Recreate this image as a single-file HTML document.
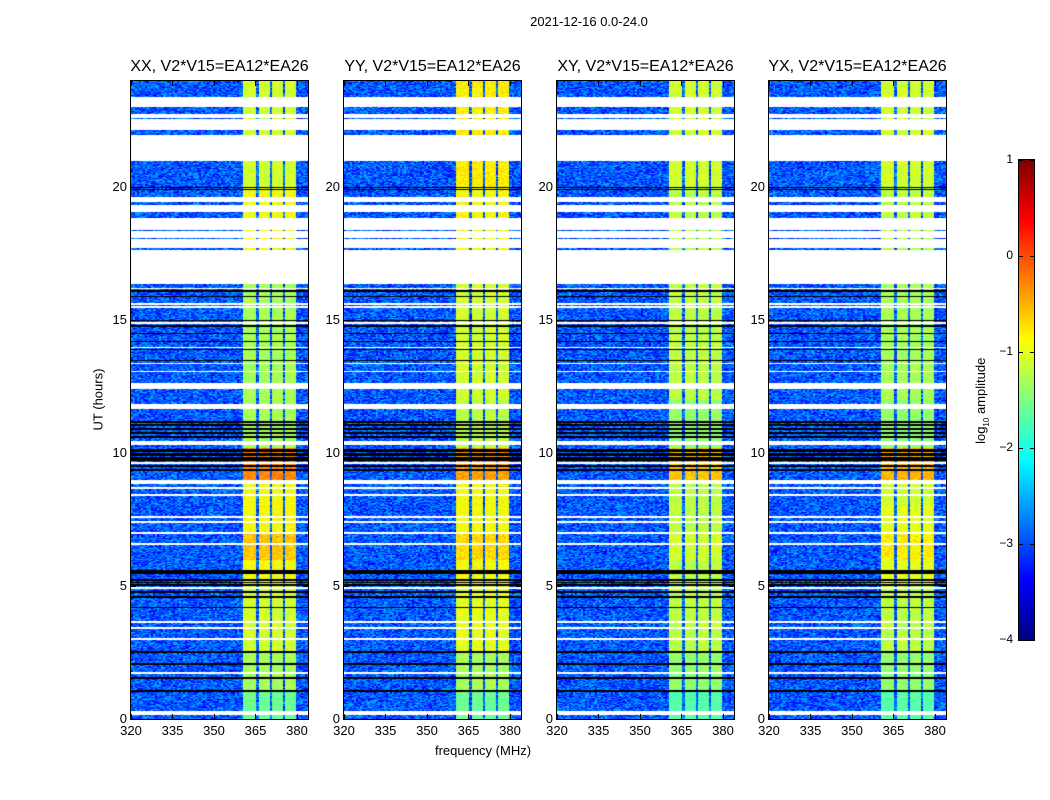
<!DOCTYPE html>
<html><head><meta charset="utf-8">
<style>
body{margin:0;background:#fff;width:1050px;height:800px;overflow:hidden;position:relative;font-family:"Liberation Sans",sans-serif;}
.t{position:absolute;white-space:nowrap;color:#000;}
canvas{position:absolute;}
#root div{position:absolute;box-sizing:content-box;}
</style></head><body>
<div class="t" style="left:489px;top:14px;width:200px;text-align:center;font-size:13px;">2021-12-16 0.0-24.0</div>
<div class="t" style="left:383px;top:743px;width:200px;text-align:center;font-size:13px;">frequency (MHz)</div>
<div class="t" style="left:48px;top:392px;width:100px;text-align:center;font-size:13px;transform:rotate(-90deg);">UT (hours)</div>
<div class="t" style="left:922px;top:392px;width:120px;text-align:center;font-size:13px;transform:rotate(-90deg);">log<sub style="font-size:8px">10</sub> amplitude</div>
<div id="root"></div>
<script>
const panelTitles=["XX, V2*V15=EA12*EA26","YY, V2*V15=EA12*EA26","XY, V2*V15=EA12*EA26","YX, V2*V15=EA12*EA26"];
const xTicks=[320,335,350,365,380];
const yTicks=[0,5,10,15,20];
const cbTicks=[1,0,-1,-2,-3,-4];
const bands=[[360.4,365],[366.2,370.2],[371,374.9],[375.6,379.6]];
const whiteGaps=[[23.03,23.4],[22.61,22.76],[22.16,22.57],[20.99,21.97],[19.45,19.64],[19.07,19.34],[18.4,18.84],[18.1,18.36],[17.72,18.06],[16.37,17.64],[12.42,12.64],[11.66,11.85],[10.31,10.46],[8.84,8.99]];
const whiteLines=[16.18,15.61,15.5,14.9,13.96,13.36,13.06,9.63,8.69,8.43,7.6,7.41,7.0,6.58,4.93,3.65,3.42,3.01,1.73,0.26,0.19];
const blackLines=[20.0,19.93,16.1,15.9,15.0,14.78,14.5,14.2,13.9,13.5,11.17,11.06,10.91,10.76,10.61,10.12,10.05,9.97,9.9,9.82,9.74,9.52,9.37,5.57,5.49,5.23,5.12,5.04,4.78,4.59,4.18,2.52,2.07,1.54,1.05];
const blockEdges=[0,1,2.5,5,6,7,8,9,10.2,12,16.4,20,24];
const levelsXX=[-1.6,-1.3,-1.1,-0.9,-0.6,-0.9,-0.9,-0.3,-1.3,-1.3,-0.9,-1.1];
const levelsYY=[-1.6,-1.3,-1.0,-0.9,-0.7,-0.9,-0.9,-0.4,-1.2,-1.1,-0.9,-0.8];
const levelsXY=[-1.7,-1.4,-1.2,-1.2,-1.1,-1.2,-1.2,-0.6,-1.4,-1.2,-1.2,-1.1];
const levelsYX=[-1.7,-1.4,-1.2,-1.0,-0.8,-1.0,-1.1,-0.5,-1.4,-1.3,-1.2,-1.1];
const panelLevels=[levelsXX,levelsYY,levelsXY,levelsYX];
const bgLevel=-2.95;

const PW=177,PH=638,PT=81,lefts=[131,344,557,769];
const F0=320,F1=383.97,H0=0,H1=24;
const xs=f=>(f-F0)/(F1-F0)*PW;
const ys=h=>PH-(h-H0)/(H1-H0)*PH;
const fInv=px=>F0+px/PW*(F1-F0);
const hInv=py=>H1-py/PH*(H1-H0);
function jet(v){const t=Math.max(0,Math.min(1,(v+4)/5));const c=x=>Math.max(0,Math.min(1,x));
return [c(1.5-Math.abs(4*t-3))*255,c(1.5-Math.abs(4*t-2))*255,c(1.5-Math.abs(4*t-1))*255];}
function hash(a,b,c){let h=(a*374761393+b*668265263+c*2147483647)|0;h=(h^(h>>>13))*1274126177|0;return ((h^(h>>>16))>>>0)/4294967295;}
const root=document.getElementById('root');
function mk(tag,css,txt){const e=document.createElement(tag);e.style.cssText='position:absolute;'+css;if(txt!==undefined)e.textContent=txt;root.appendChild(e);return e;}

panelLevels.forEach((lev,p)=>{
  const L=lefts[p];
  const cv=mk('canvas',`left:${L}px;top:${PT}px;`);
  
  
  cv.width=PW;cv.height=PH;
  const ctx=cv.getContext('2d');const img=ctx.createImageData(PW,PH);
  for(let py=0;py<PH;py++){
    const h=hInv(py+0.5);
    let mode=0;
    for(const g of whiteGaps) if(h>=g[0]&&h<=g[1]) mode=1;
    for(const w of whiteLines) if(Math.abs(ys(w)-py-0.5)<0.6) mode=1;
    if(!mode) for(const b of blackLines) if(Math.abs(ys(b)-py-0.5)<0.6) mode=2;
    let lv=lev[lev.length-1];
    for(let k=0;k<blockEdges.length-1;k++) if(h>=blockEdges[k]&&h<blockEdges[k+1]) lv=lev[k];
    for(let px=0;px<PW;px++){
      const i=(py*PW+px)*4;let col;
      if(mode===1) col=[255,255,255];
      else if(mode===2) col=[0,0,0];
      else{
        const f=fInv(px+0.5);let v=bgLevel;
        let inBand=false;for(const b of bands) if(f>=b[0]&&f<=b[1]) inBand=true;
        if(inBand) v=lv;
        else if(f>360.4&&f<379.6) v=-2.9;
        const n=hash(px>>1,py,p+1);
        v+=(n-0.5)*(inBand?0.35:1.0);
        col=jet(v);
      }
      img.data[i]=col[0];img.data[i+1]=col[1];img.data[i+2]=col[2];img.data[i+3]=255;
    }
  }
  ctx.putImageData(img,0,0);
  const fr=mk('div',`left:${L-1}px;top:${PT-1}px;width:${PW}px;height:${PH}px;border:1px solid #000;`);
  
  
  const tt=mk('div',`left:${L-40}px;top:58px;width:${PW+80}px;text-align:center;font-size:16px;`,panelTitles[p]);
  tt.className='t';
  
  
  xTicks.forEach(f=>{const x=L+xs(f);
    const a=mk('div',`left:${x-0.5}px;top:${PT}px;width:1px;height:5px;background:#000;`);
    
    
    const b=mk('div',`left:${x-0.5}px;top:${PT+PH-5}px;width:1px;height:5px;background:#000;`);
    
    
    const l=mk('div',`left:${x-20}px;top:${PT+PH+4}px;width:40px;text-align:center;font-size:13px;`,String(f));
    l.className='t';
    
    
  });
  yTicks.forEach(h=>{const y=PT+ys(h);
    const a=mk('div',`left:${L}px;top:${y-0.5}px;width:5px;height:1px;background:#000;`);
    
    
    const b=mk('div',`left:${L+PW-5}px;top:${y-0.5}px;width:5px;height:1px;background:#000;`);
    
    
    const l=mk('div',`left:${L-44}px;top:${y-8}px;width:40px;text-align:right;font-size:13px;`,String(h));
    l.className='t';
    
    
  });
});

// colorbar
const CBX=1019,CBY=160,CBW=15,CBH=480;
const cb=mk('canvas',`left:${CBX}px;top:${CBY}px;`);


cb.width=CBW;cb.height=CBH;
const cctx=cb.getContext('2d');
const cbs=v=>(1-v)/5*CBH;
for(let y=0;y<CBH;y++){const c=jet(1-(y+0.5)/CBH*5);cctx.fillStyle=`rgb(${c[0]|0},${c[1]|0},${c[2]|0})`;cctx.fillRect(0,y,CBW,1);}
const cbf=mk('div',`left:${CBX-1}px;top:${CBY-1}px;width:${CBW}px;height:${CBH}px;border:1px solid #000;`);


cbTicks.forEach(v=>{const y=CBY+cbs(v);
  const a=mk('div',`left:${CBX}px;top:${y-0.5}px;width:4px;height:1px;background:#000;`);
  
  
  const b=mk('div',`left:${CBX+CBW-4}px;top:${y-0.5}px;width:4px;height:1px;background:#000;`);
  
  
  const l=mk('div',`left:${CBX-46}px;top:${y-8}px;width:40px;text-align:right;font-size:12px;`,v<0?'\u2212'+(-v):String(v));
  l.className='t';
  
  
});
</script>
</body></html>
